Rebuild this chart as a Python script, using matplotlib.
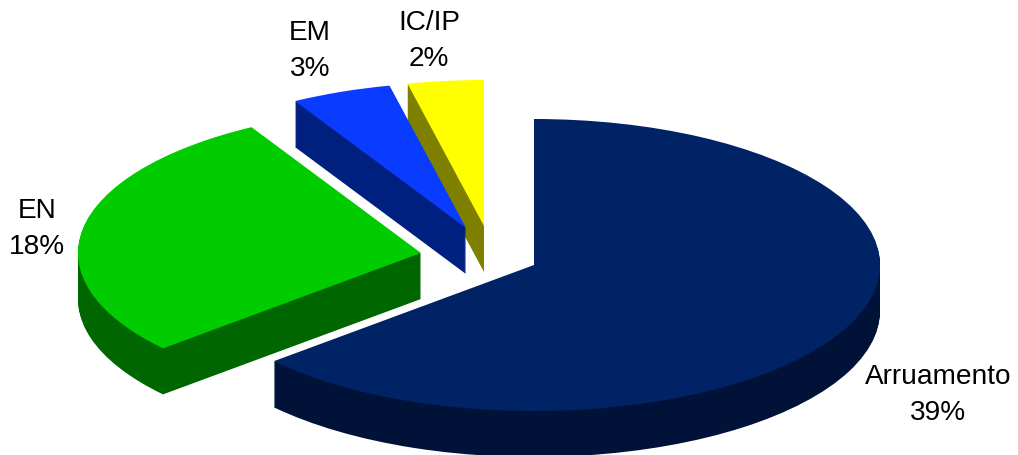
import matplotlib
matplotlib.use("Agg")
import matplotlib.pyplot as plt
import numpy as np
from matplotlib.patches import Wedge

plt.rcParams["font.family"] = ["Liberation Sans", "DejaVu Sans"]

# Données
categories = ["Arruamento", "EN", "EM", "IC/IP"]
valeurs = [39.4, 17.5, 2.9, 2.2]
etiquettes = ["39%", "18%", "3%", "2%"]

# Style
couleurs = ["#002366", "#00CC00", "#0A3CFF", "#FFFF00"]
cotes = ["#001238", "#006600", "#002080", "#808000"]
centres = [(534, 266), (421, 254), (466, 229), (484, 227)]  # apex in pixels
rayons = [346, 343, 346, 346]
pos_txt = [(938, 395), (37, 229), (310, 51), (429, 41)]
RX, RY, EP = 346, 146, 46
H = 456
K = RX / RY


def yd(py):
    # pixel row -> data y (pie is flattened by the y limits)
    return (H - py) * K


fig = plt.figure(figsize=(10.18, 4.56), dpi=100)
ax = fig.add_axes([0, 0, 1, 1])
ax.set_xlim(0, 1018)
ax.set_ylim(0, H * K)
ax.axis("off")

bornes = np.cumsum([0] + valeurs) / sum(valeurs) * 360

# back to front
for i in [3, 2, 1, 0]:
    a1, a2 = bornes[i], bornes[i + 1]
    cx, cy = centres[i]
    r = rayons[i]
    for d in range(EP, 0, -1):
        ax.add_patch(Wedge((cx, yd(cy + d)), r, 90 - a2, 90 - a1, fc=cotes[i], ec="none"))
    ax.add_patch(Wedge((cx, yd(cy)), r, 90 - a2, 90 - a1, fc=couleurs[i], ec="none"))

for nom, pct, (tx, ty) in zip(categories, etiquettes, pos_txt):
    ax.text(tx, yd(ty), nom + "\n" + pct, fontsize=20.2, ha="center", va="center",
            linespacing=1.47, color="black")

fig.savefig("out.png", dpi=100)
